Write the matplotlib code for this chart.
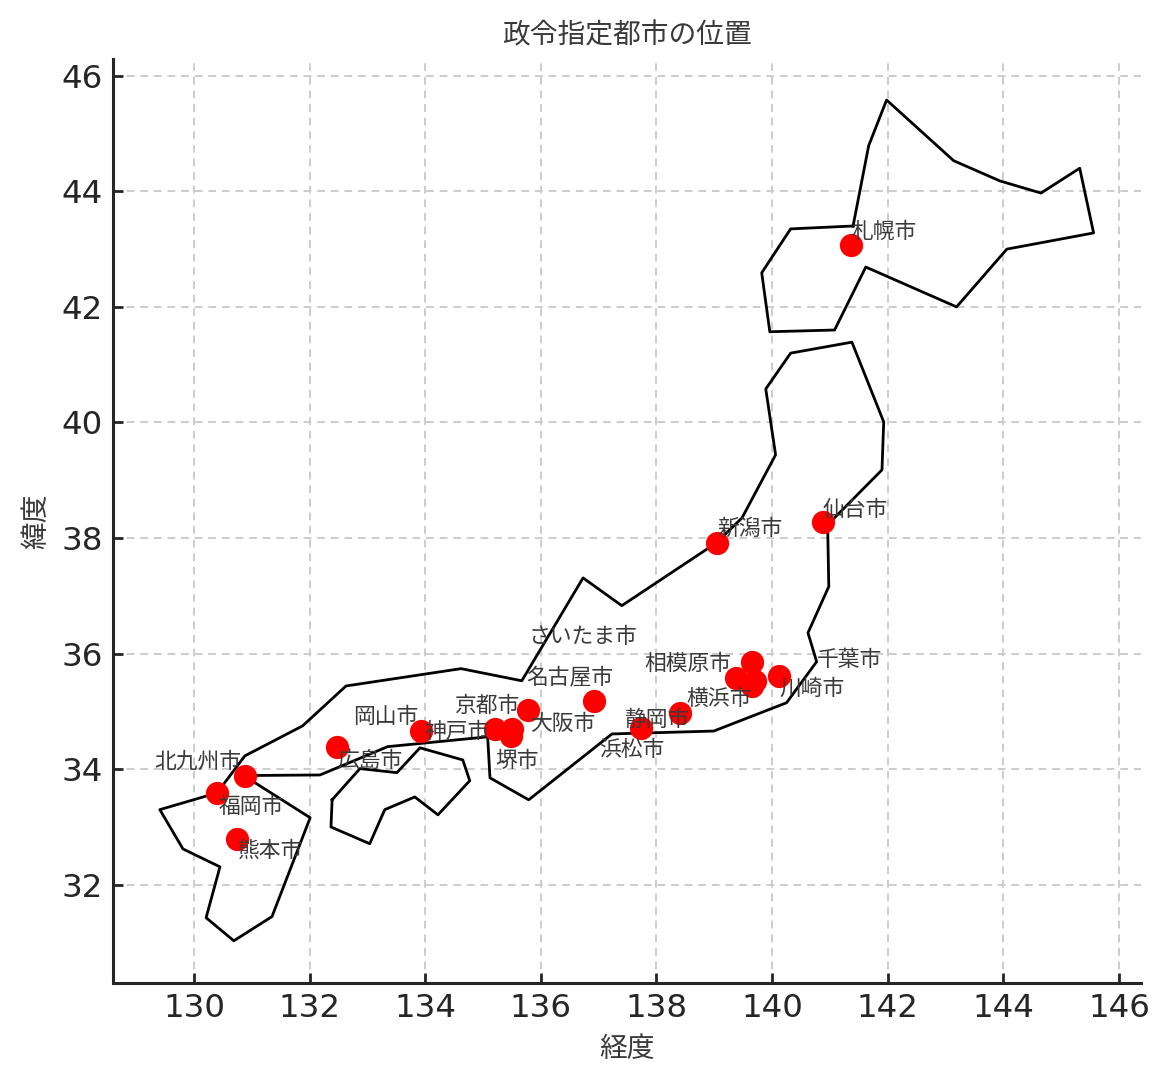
import matplotlib
matplotlib.use("Agg")
import matplotlib.pyplot as plt

plt.rcParams['font.family'] = ['DejaVu Sans', 'Noto Sans CJK JP']

# main islands drawn as one line (kyushu -> honshu)
coast_lon = [130.86, 132.01, 131.35, 130.69, 130.21, 130.45, 129.81, 129.41, 130.40, 130.88,
             131.88, 132.63, 134.62, 135.67, 136.73, 137.40, 139.04, 139.48, 140.06, 139.89,
             140.32, 141.38, 141.93, 141.90, 140.96, 140.98, 140.62, 140.77, 140.25, 138.99,
             137.23, 135.79, 135.12, 135.08, 133.35, 132.18, 130.86]
coast_lat = [33.89, 33.16, 31.45, 31.03, 31.43, 32.31, 32.62, 33.30, 33.59, 34.23,
             34.75, 35.44, 35.74, 35.53, 37.31, 36.83, 37.92, 38.35, 39.44, 40.58,
             41.20, 41.39, 40.01, 39.18, 38.23, 37.16, 36.36, 35.86, 35.15, 34.66,
             34.61, 33.47, 33.85, 34.56, 34.39, 33.90, 33.89]

hokkaido_lon = [141.40, 141.67, 141.98, 143.14, 143.94, 144.65, 145.32, 145.56, 144.06,
                143.19, 141.62, 141.08, 139.96, 139.82, 140.32, 141.40]
hokkaido_lat = [43.40, 44.79, 45.58, 44.53, 44.18, 43.97, 44.40, 43.28, 43.00,
                42.00, 42.69, 41.60, 41.57, 42.59, 43.35, 43.40]

shikoku_lon = [132.39, 132.87, 133.51, 133.91, 134.65, 134.77, 134.22, 133.82, 133.30, 133.04, 132.37, 132.39]
shikoku_lat = [33.47, 34.01, 33.94, 34.37, 34.16, 33.80, 33.21, 33.52, 33.30, 32.71, 33.00, 33.47]

cities = ['札幌市', '仙台市', '新潟市', 'さいたま市', '千葉市', '横浜市', '川崎市', '相模原市', '静岡市', '浜松市',
          '名古屋市', '京都市', '大阪市', '堺市', '神戸市', '岡山市', '広島市', '北九州市', '福岡市', '熊本市']
city_lon = [141.36, 140.88, 139.04, 139.66, 140.12, 139.65, 139.70, 139.38, 138.40, 137.73,
            136.92, 135.77, 135.50, 135.48, 135.20, 133.93, 132.47, 130.88, 130.40, 130.74]
city_lat = [43.07, 38.27, 37.92, 35.86, 35.61, 35.44, 35.53, 35.57, 34.98, 34.71,
            35.18, 35.02, 34.69, 34.57, 34.69, 34.66, 34.39, 33.88, 33.59, 32.80]

# label offset from its dot in pixels
label_dx = [1, 0, 1, -224, 38, -65, 25, -92, -55, -42, -68, -74, 18, -16, -70, -68, 1, -91, 2, 1]
label_dy = [13, 13, 14, 25, 16, -13, -8, 15, -7, -22, 23, 5, 5, -25, -3, 14, -14, 15, -14, -12]

fig = plt.figure(figsize=(1171 / 200, 1087 / 200), dpi=200)
ax = fig.add_axes([113 / 1171, 1 - 983 / 1087, (1141 - 113) / 1171, (983 - 59) / 1087])

ax.plot(coast_lon, coast_lat, color='black', linewidth=1.0, zorder=2)
ax.plot(hokkaido_lon, hokkaido_lat, color='black', linewidth=1.0, zorder=2)
ax.plot(shikoku_lon, shikoku_lat, color='black', linewidth=1.0, zorder=2)
ax.scatter(city_lon, city_lat, color='red', s=70, linewidths=0, zorder=3)

for name, lon, lat, dx, dy in zip(cities, city_lon, city_lat, label_dx, label_dy):
    ax.annotate(name, (lon, lat), xytext=(dx, dy), textcoords='offset pixels',
                fontsize=7.85, color='#3a3a3a', ha='left', va='center', zorder=4)

ax.set_xlim(128.6, 146.38)
ax.set_ylim(30.3, 46.29)
ax.set_xticks(range(130, 147, 2))
ax.set_yticks(range(32, 47, 2))
ax.tick_params(direction='in', labelsize=11.7, labelcolor='#262626', color='#262626',
               length=3.5, width=1.0, pad=3.7)
ax.grid(True, linestyle=(0, (4, 3)), linewidth=0.7, color='#cccccc', zorder=0)
ax.set_axisbelow(True)
for side in ['top', 'right']:
    ax.spines[side].set_visible(False)
for side in ['left', 'bottom']:
    ax.spines[side].set_linewidth(1.1)
    ax.spines[side].set_color('#262626')

ax.set_title('政令指定都市の位置', fontsize=10, color='#3a3a3a', pad=5.5)
ax.set_xlabel('経度', fontsize=10, color='#3a3a3a')
ax.set_ylabel('緯度', fontsize=10, color='#3a3a3a')

fig.savefig('out.png', dpi=200)
